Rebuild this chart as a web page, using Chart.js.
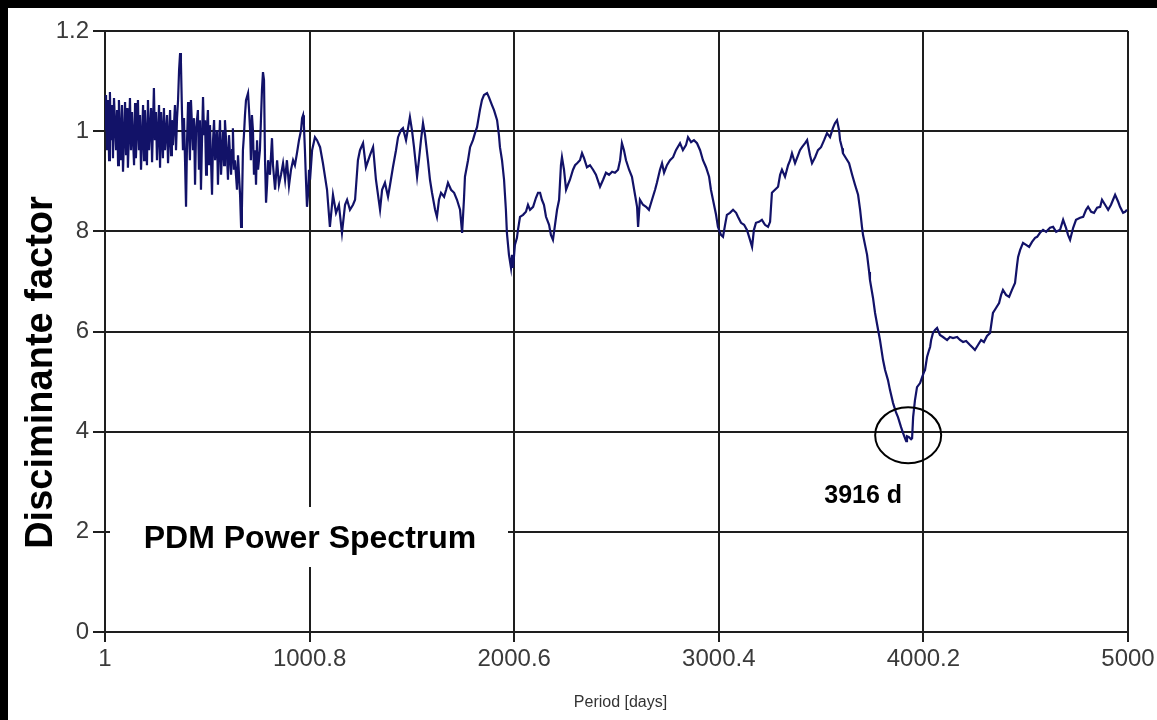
<!DOCTYPE html>
<html>
<head>
<meta charset="utf-8">
<title>PDM Power Spectrum</title>
<script src="https://cdn.jsdelivr.net/npm/chart.js@4.4.1/dist/chart.umd.min.js"></script>
<style>
  html, body { margin: 0; padding: 0; background: #000; overflow: hidden; }
  #frame { position: absolute; left: 8px; top: 8px; width: 1149px; height: 712px; background: #fff; }
  canvas { display: block; }
</style>
</head>
<body>
<div id="frame"><canvas id="chart" width="1149" height="712"></canvas></div>
<script>
// Trial periods (days)
const periods = [
  1, 6, 11, 16, 21, 25, 30, 35, 40, 45, 55, 60, 65, 69, 79, 84, 89, 99, 104, 109,
  113, 123, 128, 133, 143, 148, 152, 162, 167, 172, 177, 187, 192, 196, 206, 211, 216, 226, 231, 240,
  245, 250, 255, 265, 270, 275, 284, 289, 294, 304, 309, 319, 324, 328, 333, 343, 348, 353, 358, 363,
  368, 372, 377, 382, 387, 392, 397, 402, 407, 411, 416, 421, 431, 436, 441, 446, 455, 460, 465, 470,
  475, 480, 485, 490, 495, 499, 504, 509, 514, 524, 529, 534, 539, 548, 553, 558, 563, 568, 578, 583,
  587, 597, 602, 607, 617, 622, 626, 631, 636, 646, 651, 661, 666, 670, 675, 680, 685, 690, 700, 705,
  710, 714, 719, 724, 729, 734, 739, 744, 749, 758, 763, 768, 773, 778, 783, 788, 793, 798, 807, 817,
  822, 832, 842, 851, 861, 871, 881, 890, 900, 910, 920, 929, 939, 949, 959, 964, 969, 973, 978, 983,
  988, 993, 998, 1003, 1013, 1027, 1037, 1052, 1066, 1086, 1100, 1115, 1130, 1144, 1159, 1174, 1184, 1198, 1213, 1223,
  1237, 1247, 1262, 1276, 1296, 1311, 1325, 1345, 1355, 1369, 1384, 1394, 1408, 1423, 1433, 1447, 1457, 1472, 1482, 1491,
  1501, 1511, 1526, 1535, 1545, 1555, 1565, 1579, 1589, 1599, 1614, 1623, 1633, 1643, 1658, 1668, 1677, 1692, 1707, 1721,
  1736, 1746, 1755, 1760, 1775, 1785, 1799, 1809, 1819, 1833, 1843, 1853, 1868, 1877, 1892, 1902, 1917, 1926, 1931, 1941,
  1951, 1960, 1965, 1975, 1985, 1990, 1995, 2004, 2014, 2019, 2029, 2044, 2058, 2068, 2078, 2093, 2107, 2117, 2127, 2136,
  2146, 2156, 2171, 2180, 2190, 2200, 2210, 2220, 2229, 2234, 2244, 2254, 2263, 2273, 2288, 2298, 2308, 2322, 2332, 2342,
  2356, 2371, 2386, 2400, 2420, 2435, 2449, 2464, 2479, 2493, 2508, 2518, 2527, 2537, 2547, 2562, 2576, 2591, 2601, 2606,
  2615, 2630, 2645, 2659, 2674, 2689, 2698, 2713, 2723, 2733, 2747, 2762, 2777, 2791, 2811, 2825, 2840, 2850, 2865, 2879,
  2894, 2909, 2923, 2938, 2953, 2962, 2972, 2987, 2996, 3011, 3021, 3031, 3040, 3055, 3070, 3085, 3094, 3109, 3124, 3138,
  3153, 3163, 3172, 3182, 3197, 3211, 3226, 3241, 3251, 3260, 3275, 3290, 3300, 3309, 3324, 3339, 3349, 3358, 3373, 3388,
  3397, 3407, 3422, 3432, 3446, 3456, 3471, 3485, 3500, 3515, 3529, 3544, 3558, 3568, 3578, 3588, 3593, 3603, 3607, 3622,
  3637, 3652, 3666, 3681, 3691, 3700, 3705, 3715, 3725, 3735, 3739, 3754, 3764, 3779, 3788, 3803, 3813, 3827, 3837, 3852,
  3866, 3876, 3891, 3901, 3910, 3916, 3920, 3930, 3940, 3945, 3950, 3959, 3969, 3984, 3994, 4003, 4008, 4018, 4028, 4033,
  4038, 4047, 4057, 4067, 4081, 4096, 4116, 4130, 4145, 4165, 4179, 4194, 4209, 4228, 4243, 4252, 4267, 4282, 4296, 4311,
  4326, 4335, 4340, 4355, 4370, 4380, 4389, 4404, 4419, 4433, 4448, 4458, 4463, 4473, 4487, 4502, 4517, 4531, 4546, 4556,
  4570, 4585, 4600, 4619, 4634, 4649, 4668, 4683, 4697, 4707, 4717, 4732, 4746, 4766, 4781, 4795, 4805, 4820, 4834, 4849,
  4864, 4873, 4888, 4903, 4917, 4927, 4937, 4952, 4961, 4976, 4986, 4995
];

// PDM discriminant (theta) at each trial period
const discriminant = [
  1.002, 1.072, 0.962, 1.062, 0.942, 1.078, 0.982, 1.052, 0.946, 1.066, 0.962, 1.042, 0.932, 1.062, 0.942, 1.052, 0.919, 1.058, 0.952, 1.046,
  0.927, 1.066, 0.962, 1.038, 0.932, 1.056, 0.946, 1.062, 0.962, 1.032, 0.923, 1.052, 0.942, 1.042, 0.932, 1.062, 0.962, 1.046, 0.938, 1.086,
  0.982, 1.038, 0.942, 1.052, 0.927, 1.038, 0.946, 1.046, 0.962, 1.032, 0.936, 1.042, 0.952, 1.022, 0.972, 1.052, 0.962, 1.026, 1.062, 1.122,
  1.156, 1.138, 1.042, 0.962, 1.026, 0.942, 0.849, 0.982, 1.058, 1.002, 0.942, 1.062, 0.962, 1.026, 0.893, 1.002, 1.042, 0.923, 1.022, 0.883,
  0.982, 1.068, 0.992, 1.022, 0.913, 1.002, 1.042, 0.932, 1.012, 0.873, 0.982, 1.022, 0.942, 1.002, 0.893, 0.972, 1.022, 0.913, 1.002, 0.932,
  1.022, 0.952, 0.903, 0.992, 0.913, 0.962, 1.006, 0.923, 0.942, 0.883, 0.952, 0.873, 0.809, 0.843, 0.962, 0.992, 1.032, 1.062, 1.076, 1.042,
  1.002, 0.942, 1.032, 1.002, 0.913, 0.962, 0.893, 0.982, 0.923, 0.962, 1.022, 1.082, 1.118, 1.102, 0.942, 0.857, 0.893, 0.942, 0.913, 0.986,
  0.932, 0.883, 0.942, 0.893, 0.913, 0.936, 0.903, 0.942, 0.891, 0.923, 0.942, 0.932, 0.956, 0.982, 1.002, 1.026, 1.032, 1.012, 0.962, 0.903,
  0.849, 0.873, 0.923, 0.903, 0.962, 0.988, 0.982, 0.968, 0.936, 0.883, 0.809, 0.873, 0.837, 0.853, 0.797, 0.853, 0.863, 0.843, 0.853, 0.863,
  0.942, 0.962, 0.976, 0.928, 0.952, 0.968, 0.903, 0.843, 0.883, 0.897, 0.869, 0.893, 0.928, 0.962, 0.988, 1.002, 1.006, 0.982, 1.006, 1.028,
  1.002, 0.968, 0.909, 0.942, 0.982, 1.016, 0.992, 0.942, 0.903, 0.877, 0.843, 0.829, 0.863, 0.877, 0.869, 0.883, 0.897, 0.883, 0.877, 0.863,
  0.843, 0.797, 0.863, 0.909, 0.942, 0.968, 0.982, 0.996, 1.008, 1.042, 1.062, 1.072, 1.076, 1.068, 1.052, 1.042, 1.022, 0.992, 0.968, 0.942,
  0.903, 0.843, 0.797, 0.753, 0.727, 0.753, 0.727, 0.773, 0.787, 0.803, 0.829, 0.833, 0.839, 0.853, 0.843, 0.849, 0.867, 0.877, 0.877, 0.863,
  0.853, 0.829, 0.813, 0.793, 0.783, 0.813, 0.843, 0.863, 0.932, 0.948, 0.923, 0.883, 0.893, 0.903, 0.923, 0.932, 0.936, 0.942, 0.956, 0.946,
  0.928, 0.932, 0.923, 0.913, 0.889, 0.903, 0.917, 0.913, 0.919, 0.917, 0.923, 0.942, 0.976, 0.962, 0.942, 0.923, 0.909, 0.873, 0.849, 0.809,
  0.863, 0.853, 0.849, 0.843, 0.863, 0.883, 0.897, 0.923, 0.936, 0.917, 0.932, 0.942, 0.948, 0.962, 0.976, 0.962, 0.972, 0.988, 0.978, 0.982,
  0.976, 0.962, 0.942, 0.928, 0.909, 0.883, 0.863, 0.833, 0.809, 0.793, 0.789, 0.813, 0.833, 0.837, 0.843, 0.837, 0.829, 0.817, 0.813, 0.803,
  0.783, 0.769, 0.803, 0.817, 0.819, 0.823, 0.813, 0.809, 0.819, 0.877, 0.883, 0.889, 0.913, 0.923, 0.909, 0.932, 0.942, 0.956, 0.936, 0.952,
  0.962, 0.968, 0.976, 0.982, 0.952, 0.936, 0.948, 0.962, 0.968, 0.982, 0.996, 0.988, 1.006, 1.016, 1.022, 1.002, 0.982, 0.966, 0.956, 0.946,
  0.936, 0.913, 0.893, 0.873, 0.843, 0.809, 0.793, 0.773, 0.753, 0.719, 0.703, 0.667, 0.637, 0.603, 0.583, 0.543, 0.523, 0.503, 0.483, 0.457,
  0.439, 0.429, 0.409, 0.397, 0.387, 0.381, 0.391, 0.389, 0.385, 0.387, 0.429, 0.463, 0.489, 0.497, 0.509, 0.519, 0.523, 0.549, 0.563, 0.569,
  0.583, 0.597, 0.603, 0.607, 0.593, 0.589, 0.583, 0.589, 0.587, 0.589, 0.583, 0.579, 0.581, 0.573, 0.567, 0.563, 0.573, 0.583, 0.579, 0.591,
  0.597, 0.623, 0.637, 0.647, 0.657, 0.673, 0.683, 0.673, 0.669, 0.683, 0.697, 0.733, 0.749, 0.763, 0.777, 0.773, 0.769, 0.779, 0.787, 0.789,
  0.797, 0.803, 0.799, 0.807, 0.809, 0.799, 0.803, 0.823, 0.807, 0.793, 0.783, 0.807, 0.823, 0.827, 0.829, 0.843, 0.849, 0.839, 0.837, 0.847,
  0.849, 0.863, 0.853, 0.843, 0.853, 0.863, 0.873, 0.859, 0.849, 0.837, 0.839, 0.843
];

// Axis ticks and their printed labels
const xTickValues = [1, 1000.8, 2000.6, 3000.4, 4000.2, 5000];
const xTickLabels = ['1', '1000.8', '2000.6', '3000.4', '4000.2', '5000'];
const yTickValues = [0, 0.2, 0.4, 0.6, 0.8, 1.0, 1.2];
const yTickLabels = ['0', '2', '4', '6', '8', '1', '1.2'];

// Marked minimum of the spectrum
const minimumPeriod = 3916;
const minimumLabel = '3916 d';

const chartTitle = 'PDM Power Spectrum';
const xTitle = 'Period [days]';
const yTitle = 'Disciminante factor';

const points = periods.map((p, i) => ({ x: p, y: discriminant[i] }));

const gridColor = '#1e1e1e';
const tickFont = { family: "'Liberation Sans', Arial, sans-serif", size: 24 };

// Titles, caption box and the circled minimum
const decorations = {
  id: 'decorations',
  afterDraw(chart, args, opts) {
    const { ctx, chartArea, scales } = chart;
    ctx.save();

    // caption box sitting over the grid
    const bx = chartArea.left + opts.box.dx, by = chartArea.top + opts.box.dy;
    ctx.fillStyle = '#ffffff';
    ctx.fillRect(bx, by, opts.box.w, opts.box.h);
    ctx.fillStyle = '#000';
    ctx.font = "bold 32px 'Liberation Sans', Arial, sans-serif";
    ctx.textAlign = 'center';
    ctx.textBaseline = 'middle';
    ctx.fillText(chartTitle, bx + opts.box.w / 2 + opts.box.textDx, by + opts.box.h / 2 + 2);

    // circle around the minimum
    const idx = periods.indexOf(minimumPeriod);
    const cx = scales.x.getPixelForValue(minimumPeriod) + opts.ring.dx;
    const cy = scales.y.getPixelForValue(discriminant[idx]) + opts.ring.dy;
    ctx.strokeStyle = '#000';
    ctx.lineWidth = 2;
    ctx.beginPath();
    ctx.ellipse(cx, cy, opts.ring.rx, opts.ring.ry, 0, 0, Math.PI * 2);
    ctx.stroke();

    ctx.font = "bold 25px 'Liberation Sans', Arial, sans-serif";
    ctx.fillText(minimumLabel, cx + opts.ring.labelDx, cy + opts.ring.labelDy);

    // axis titles
    ctx.fillStyle = '#333';
    ctx.font = "16px 'Liberation Sans', Arial, sans-serif";
    ctx.fillText(xTitle, (chartArea.left + chartArea.right) / 2 + 4, chart.height - 17);

    ctx.fillStyle = '#000';
    ctx.font = "bold 38px 'Liberation Sans', Arial, sans-serif";
    ctx.translate(34, (chartArea.top + chartArea.bottom) / 2 + 41);
    ctx.rotate(-Math.PI / 2);
    ctx.fillText(yTitle, 0, 0);
    ctx.restore();
  }
};

new Chart(document.getElementById('chart'), {
  type: 'line',
  data: {
    datasets: [{
      data: points,
      borderColor: '#121268',
      borderWidth: 2.2,
      pointRadius: 0,
      tension: 0,
      fill: false
    }]
  },
  options: {
    responsive: false,
    devicePixelRatio: 1,
    animation: false,
    layout: { padding: { left: 0, right: 29, top: 23, bottom: 0 } },
    plugins: {
      legend: { display: false },
      tooltip: { enabled: false },
      decorations: {
        box: { dx: 5, dy: 476, w: 398, h: 60, textDx: 1 },
        ring: { dx: 2, dy: -6, rx: 33, ry: 28, labelDx: -45, labelDy: 61 }
      }
    },
    scales: {
      x: {
        type: 'linear',
        min: 1,
        max: 5000,
        afterBuildTicks: s => { s.ticks = xTickValues.map(v => ({ value: v })); },
        afterFit: s => { s.height = 88; s.paddingLeft = 0; s.paddingRight = 0; },
        ticks: {
          autoSkip: false, maxRotation: 0, padding: 3,
          color: '#3a3a3a', font: tickFont,
          callback: (v, i) => xTickLabels[i]
        },
        grid: { color: gridColor, lineWidth: 2, tickLength: 10 },
        border: { color: gridColor, width: 2 }
      },
      y: {
        type: 'linear',
        min: 0,
        max: 1.2,
        afterBuildTicks: s => { s.ticks = yTickValues.map(v => ({ value: v })); },
        afterFit: s => { s.width = 97; s.paddingTop = 0; s.paddingBottom = 0; },
        ticks: {
          padding: 4,
          color: '#3a3a3a', font: tickFont,
          callback: (v, i) => yTickLabels[i]
        },
        grid: { color: gridColor, lineWidth: 2, tickLength: 12 },
        border: { color: gridColor, width: 2 }
      }
    }
  },
  plugins: [decorations]
});
</script>
</body>
</html>
